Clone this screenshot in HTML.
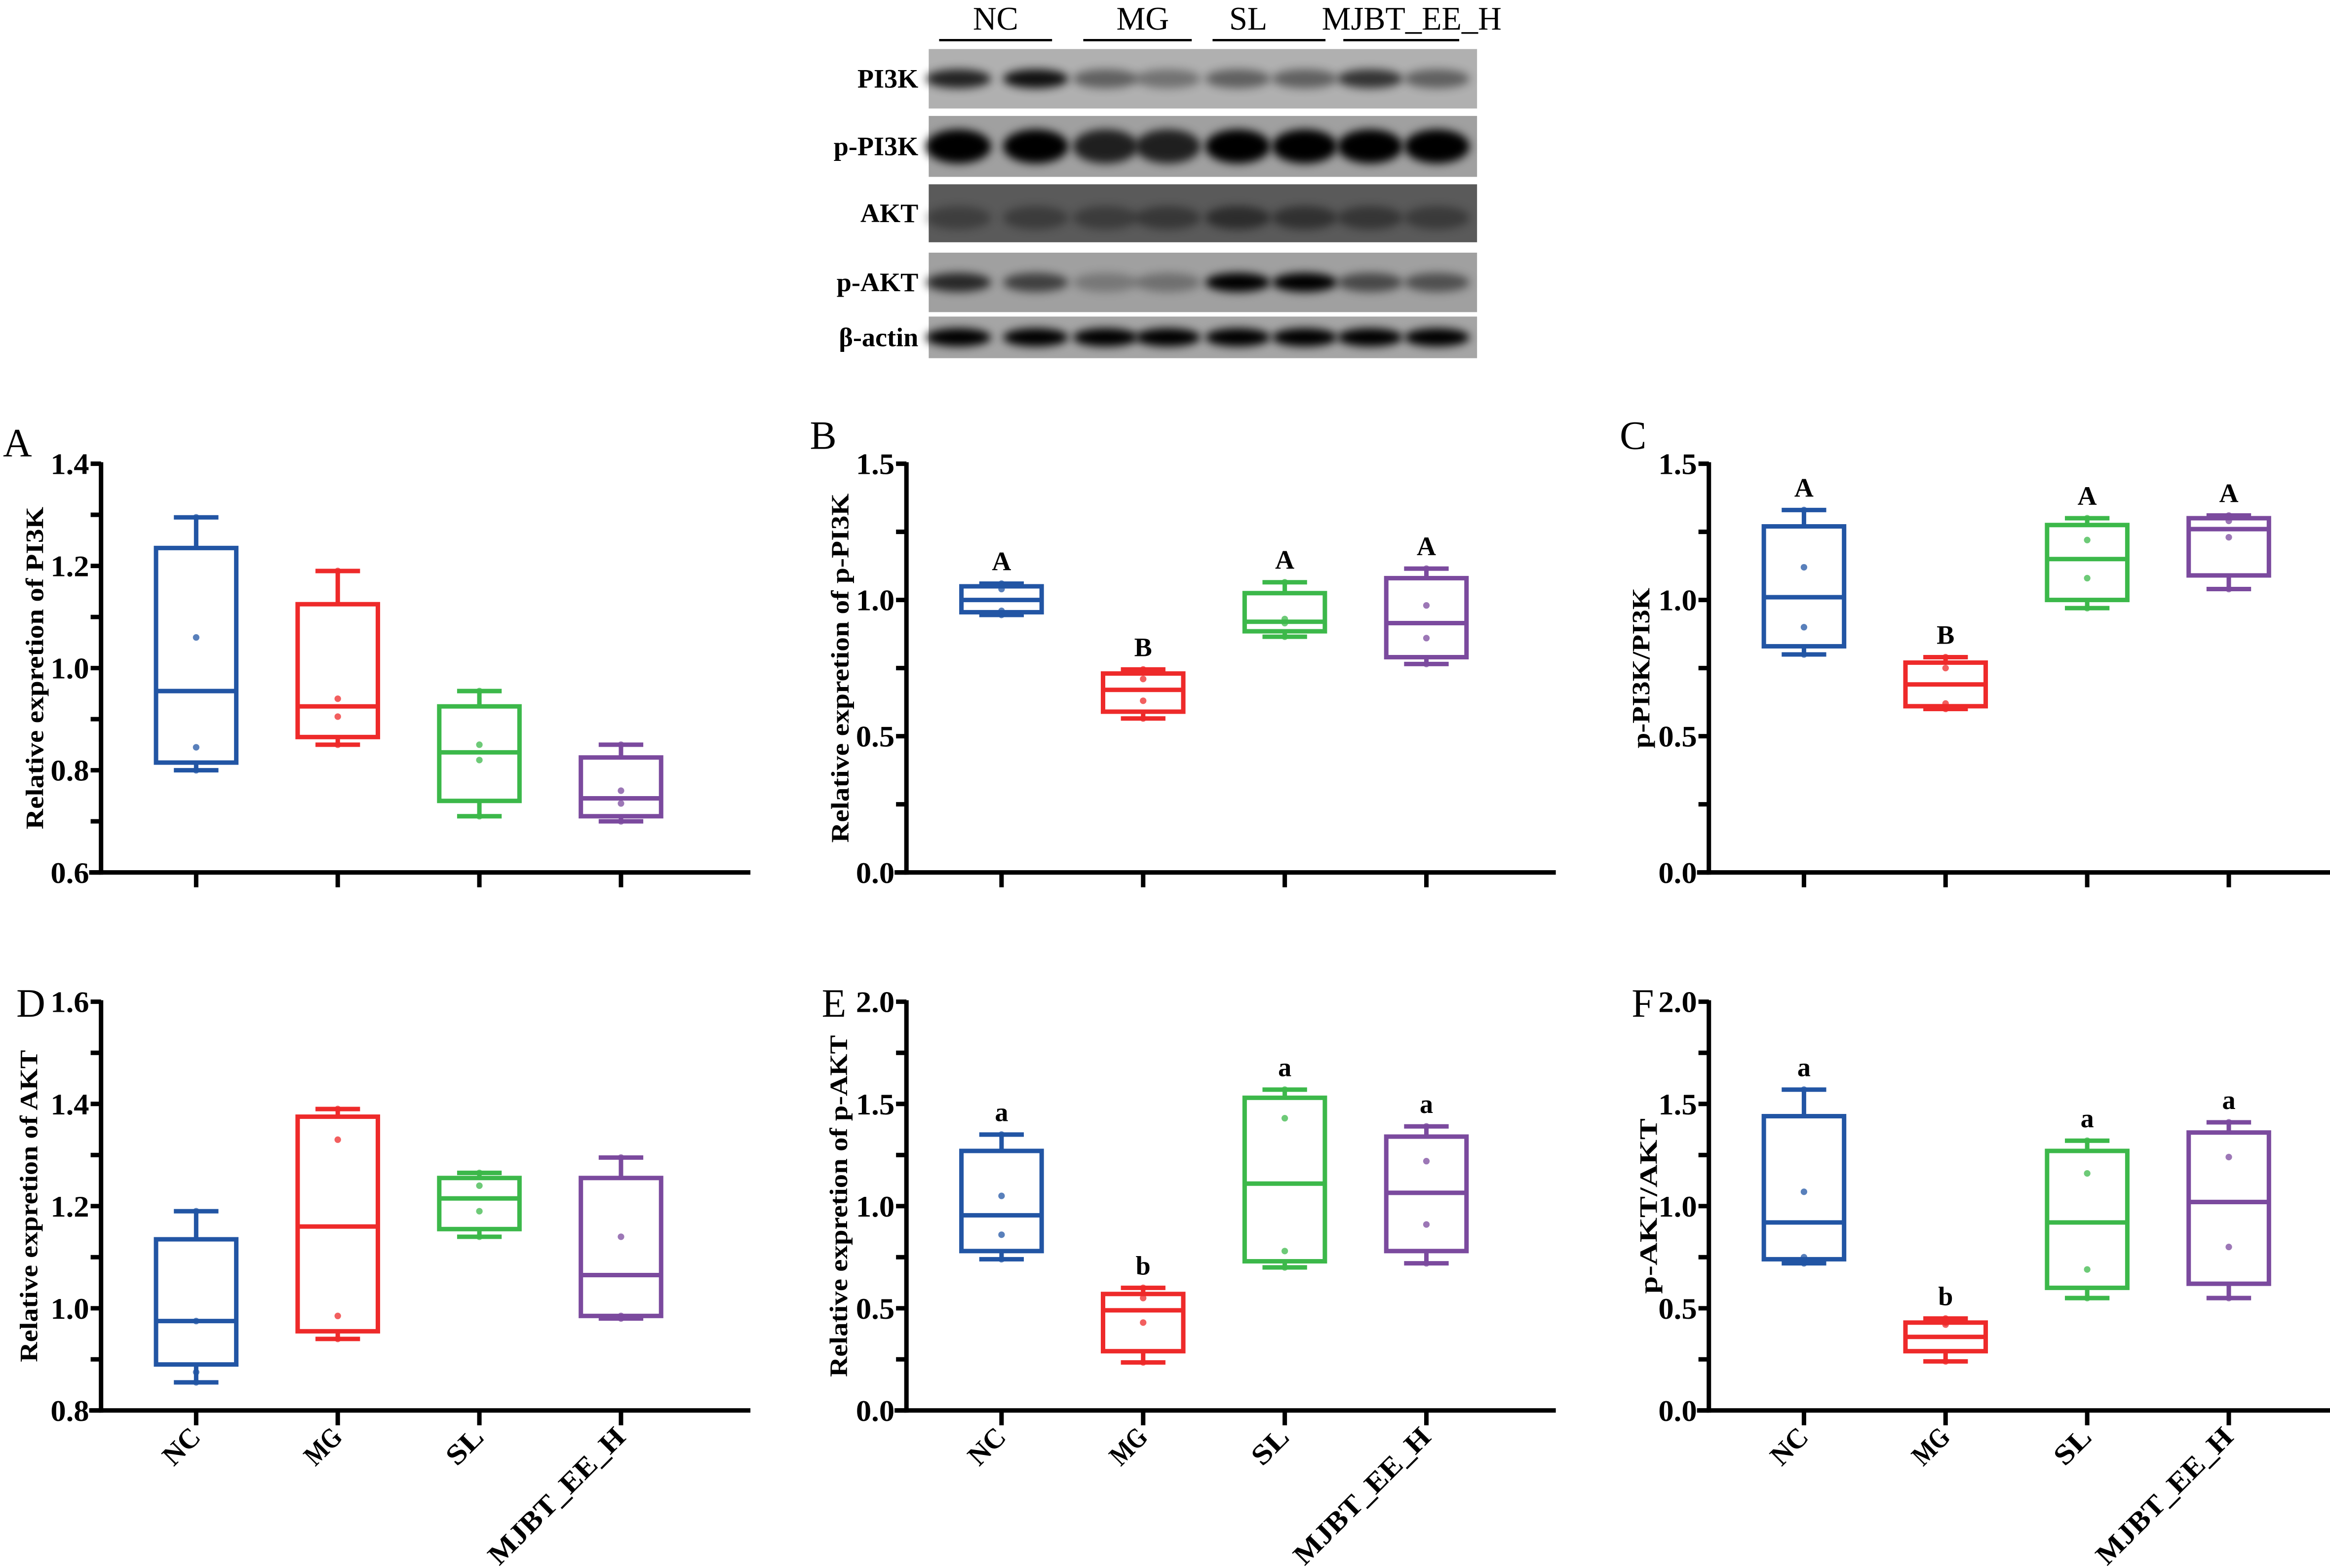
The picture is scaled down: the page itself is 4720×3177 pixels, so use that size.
<!DOCTYPE html>
<html><head><meta charset="utf-8"><style>
html,body{margin:0;padding:0;background:#fff;}
svg{display:block;}
text{font-family:"Liberation Serif","Times New Roman",serif;}
</style></head><body>
<svg id="fig" width="4720" height="3177" viewBox="0 0 1568 1055" preserveAspectRatio="none" xmlns="http://www.w3.org/2000/svg">
<defs><filter id="blur" x="-30%" y="-60%" width="160%" height="220%"><feGaussianBlur stdDeviation="3"/></filter></defs>
<rect x="0" y="0" width="1568" height="1055" fill="#fff"/>
<g id="blot"></g>
<g id="charts"></g>
</svg>
<script>
const NS='http://www.w3.org/2000/svg';
const categories=['NC','MG','SL','MJBT_EE_H'];
const colors=['#2255a4','#ee2a2a','#3cb84a','#7b4a9e'];
// [min,q1,median,q3,max]
const boxA=[[0.80,0.815,0.955,1.235,1.295],[0.85,0.865,0.925,1.125,1.19],[0.71,0.74,0.835,0.925,0.955],[0.70,0.71,0.745,0.825,0.85]];
const ptsA=[[1.295,1.06,0.845,0.80],[1.19,0.94,0.905,0.85],[0.955,0.85,0.82,0.71],[0.85,0.76,0.735,0.70]];
const boxB=[[0.945,0.955,1.0,1.05,1.06],[0.565,0.59,0.67,0.73,0.745],[0.865,0.885,0.92,1.025,1.065],[0.765,0.79,0.915,1.08,1.115]];
const ptsB=[[1.06,1.04,0.96,0.945],[0.745,0.71,0.63,0.565],[1.065,0.93,0.915,0.865],[1.115,0.98,0.86,0.765]];
const boxC=[[0.80,0.83,1.01,1.27,1.33],[0.60,0.61,0.69,0.77,0.79],[0.97,1.0,1.15,1.275,1.30],[1.04,1.09,1.26,1.30,1.31]];
const ptsC=[[1.33,1.12,0.90,0.80],[0.79,0.75,0.62,0.60],[1.30,1.22,1.08,0.97],[1.31,1.29,1.23,1.04]];
const boxD=[[0.855,0.89,0.975,1.135,1.19],[0.94,0.955,1.16,1.375,1.39],[1.14,1.155,1.215,1.255,1.265],[0.98,0.985,1.065,1.255,1.295]];
const ptsD=[[1.19,0.975,0.875,0.855],[1.39,1.33,0.985,0.94],[1.265,1.24,1.19,1.14],[1.295,1.14,0.985,0.98]];
const boxE=[[0.74,0.78,0.955,1.27,1.35],[0.235,0.29,0.49,0.57,0.60],[0.70,0.73,1.11,1.53,1.57],[0.72,0.78,1.065,1.34,1.39]];
const ptsE=[[1.35,1.05,0.86,0.74],[0.60,0.55,0.43,0.235],[1.57,1.43,0.78,0.70],[1.39,1.22,0.91,0.72]];
const boxF=[[0.72,0.74,0.92,1.44,1.57],[0.24,0.29,0.36,0.43,0.45],[0.55,0.60,0.92,1.27,1.32],[0.55,0.62,1.02,1.36,1.41]];
const ptsF=[[1.57,1.07,0.75,0.72],[0.45,0.43,0.42,0.24],[1.32,1.16,0.69,0.55],[1.41,1.24,0.80,0.55]];
const lettersB=['A','B','A','A'];
const lettersC=['A','B','A','A'];
const lettersE=['a','b','a','a'];
const lettersF=['a','b','a','a'];
const ticksA=['0.6','0.8','1.0','1.2','1.4'];
const ticks15=['0.0','0.5','1.0','1.5'];
const ticksD=['0.8','1.0','1.2','1.4','1.6'];
const ticks20=['0.0','0.5','1.0','1.5','2.0'];

function el(tag,attrs,parent){const e=document.createElementNS(NS,tag);for(const k in attrs)e.setAttribute(k,attrs[k]);parent.appendChild(e);return e;}

const panels=[
 {id:'A',ax:68,top:312,bot:587,min:0.6,max:1.4,ticks:ticksA,minor:0.1,box:boxA,pts:ptsA,letters:null,title:'Relative expretion of PI3K',tl:217,tx:29,lx:2,ly:307,xl:false},
 {id:'B',ax:610,top:312,bot:587,min:0,max:1.5,ticks:ticks15,minor:0.25,box:boxB,pts:ptsB,letters:lettersB,title:'Relative expretion of p-PI3K',tl:235,tx:571,lx:545,ly:302,xl:false},
 {id:'C',ax:1150,top:312,bot:587,min:0,max:1.5,ticks:ticks15,minor:0.25,box:boxC,pts:ptsC,letters:lettersC,title:'p-PI3K/PI3K',tl:108,tx:1110,lx:1090,ly:302,xl:false},
 {id:'D',ax:68,top:674,bot:949,min:0.8,max:1.6,ticks:ticksD,minor:0.1,box:boxD,pts:ptsD,letters:null,title:'Relative expretion of AKT',tl:210,tx:25,lx:11,ly:684,xl:true},
 {id:'E',ax:610,top:674,bot:949,min:0,max:2.0,ticks:ticks20,minor:0.25,box:boxE,pts:ptsE,letters:lettersE,title:'Relative expretion of p-AKT',tl:230,tx:570,lx:553,ly:684,xl:true},
 {id:'F',ax:1150,top:674,bot:949,min:0,max:2.0,ticks:ticks20,minor:0.25,box:boxF,pts:ptsF,letters:lettersF,title:'p-AKT/AKT',tl:118,tx:1115,lx:1098,ly:684,xl:true}
];
const charts=document.getElementById('charts');
panels.forEach(p=>{
 const g=el('g',{},charts);
 
 
 const y=v=>p.bot-(v-p.min)/(p.max-p.min)*(p.bot-p.top);
 const step=95.3;
 const cx=i=>p.ax+64+i*step;
 const xEnd=p.ax+437;
 const lt=el('text',{x:p.lx,y:p.ly,'font-size':27},g);lt.textContent=p.id;
 
 const ya=el('line',{x1:p.ax,y1:p.top-1,x2:p.ax,y2:p.bot+1.5,stroke:'#000','stroke-width':3},g);
 
 const xa=el('line',{x1:p.ax-8,y1:p.bot,x2:xEnd,y2:p.bot,stroke:'#000','stroke-width':3},g);
 
 const nMinor=Math.round((p.max-p.min)/p.minor);
 for(let k=0;k<=nMinor;k++){const v=p.min+k*p.minor;el('line',{x1:p.ax-7,y1:y(v),x2:p.ax,y2:y(v),stroke:'#000','stroke-width':3},g);}
 const majStep=(p.max-p.min)/(p.ticks.length-1);
 p.ticks.forEach((t,k)=>{const v=p.min+k*majStep;
  const tt=el('text',{x:p.ax-8,y:y(v)+7,'font-size':20,'font-weight':'bold','text-anchor':'end',textLength:26,lengthAdjust:'spacingAndGlyphs'},g);tt.textContent=t;
  });
 const yt=el('text',{x:0,y:0,'font-size':17,'font-weight':'bold','text-anchor':'middle',textLength:p.tl,lengthAdjust:'spacingAndGlyphs',transform:`translate(${p.tx},${(p.top+p.bot)/2}) rotate(-90)`},g);
 yt.textContent=p.title;
 categories.forEach((c,i)=>{
  const x=cx(i),b=p.box[i],col=colors[i];
  el('line',{x1:x,y1:p.bot,x2:x,y2:p.bot+10,stroke:'#000','stroke-width':3},g);
  const bg=el('g',{},g);
  
  const hw=27,cw=15;
  el('line',{x1:x,y1:y(b[0]),x2:x,y2:y(b[1]),stroke:col,'stroke-width':3},bg);
  el('line',{x1:x,y1:y(b[3]),x2:x,y2:y(b[4]),stroke:col,'stroke-width':3},bg);
  el('line',{x1:x-cw,y1:y(b[0]),x2:x+cw,y2:y(b[0]),stroke:col,'stroke-width':3},bg);
  el('line',{x1:x-cw,y1:y(b[4]),x2:x+cw,y2:y(b[4]),stroke:col,'stroke-width':3},bg);
  el('rect',{x:x-hw,y:y(b[3]),width:2*hw,height:y(b[1])-y(b[3]),fill:'none',stroke:col,'stroke-width':3},bg);
  el('line',{x1:x-hw,y1:y(b[2]),x2:x+hw,y2:y(b[2]),stroke:col,'stroke-width':3},bg);
  p.pts[i].forEach(v=>{const d=el('circle',{cx:x,cy:y(v),r:2.2,fill:col,opacity:0.75},bg);
   });
  if(p.letters){const l=el('text',{x:x,y:y(b[4])-9,'font-size':18,'font-weight':'bold','text-anchor':'middle'},g);l.textContent=p.letters[i];
   }
  if(p.xl){const xl=el('text',{x:0,y:0,'font-size':19,'font-weight':'bold','text-anchor':'end',textLength:c.length*13.5,lengthAdjust:'spacingAndGlyphs',transform:`translate(${x+4},${p.bot+19}) rotate(-45)`},g);xl.textContent=c;
   }
 });
});
// Western blot
const blot=document.getElementById('blot');
const rows=['PI3K','p-PI3K','AKT','p-AKT','β-actin'];
const rowY=[[33,73],[78,119],[124,163],[170,210],[213,241]];
const rowBg=['#b0b0b0','#a0a0a0','#5a5a5a','#a0a0a0','#a5a5a5'];
const lanes=[645,697,744,786,833,878,922,967];
const intens=[[0.8,0.9,0.45,0.35,0.45,0.45,0.7,0.45],[1,1,0.8,0.8,1,1,1,1],[0.3,0.33,0.33,0.38,0.5,0.45,0.4,0.35],[0.75,0.6,0.25,0.3,1,1,0.55,0.5],[1,1,1,1,1,1,1,1]];
const bandH=[0.16,0.28,0.2,0.16,0.22];
rows.forEach((r,i)=>{
 const [t,b]=rowY[i];
 const rg=el('g',{},blot);
 
 el('rect',{x:625,y:t,width:369,height:b-t,fill:rowBg[i]},rg);
 const cy=(t+b)/2+(i==2?3:0);
 lanes.forEach((lx,j)=>{el('ellipse',{cx:lx,cy:cy,rx:22,ry:(b-t)*bandH[i],fill:'#000',opacity:intens[i][j],filter:'url(#blur)'},rg);});
 const lb=el('text',{x:618,y:(t+b)/2+6,'font-size':18,'font-weight':'bold','text-anchor':'end'},blot);lb.textContent=r;
 
});
const grpX=[670,769,840,950],lineX=[[632,708],[729,802],[816,892],[904,982]];
categories.forEach((c,i)=>{
 const t=el('text',{x:grpX[i],y:20,'font-size':22,'text-anchor':'middle'},blot);t.textContent=c;
 
 el('line',{x1:lineX[i][0],y1:27,x2:lineX[i][1],y2:27,stroke:'#000','stroke-width':1.5},blot);
});
</script>
</body></html>
